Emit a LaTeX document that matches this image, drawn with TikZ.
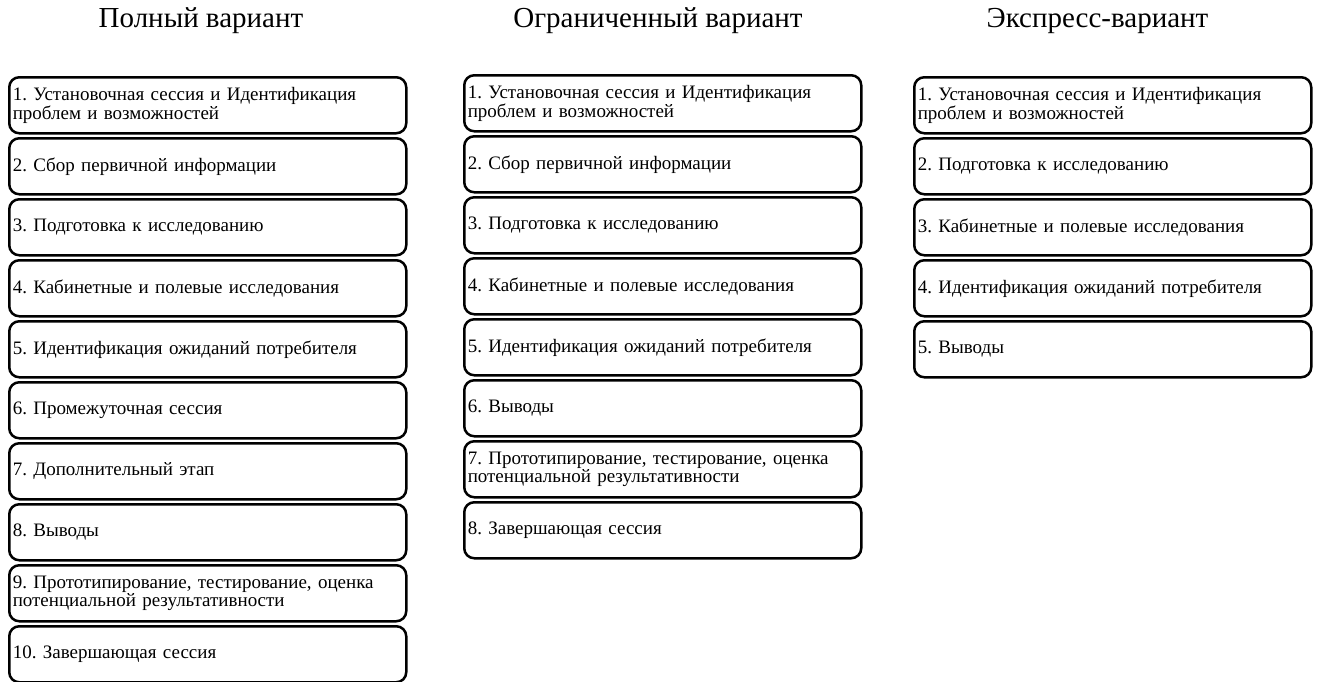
\documentclass[tikz,border=0pt]{standalone}
\usepackage{fontspec}
\setmainfont{Liberation Serif}
\frenchspacing
\begin{document}
\begin{tikzpicture}[x=1pt,y=-1pt,
  stagebox/.style={draw=black, line width=2.5pt, rounded corners=10pt,
    minimum width=397pt, minimum height=56pt, text width=390pt,
    inner xsep=3.5pt, inner ysep=0pt, align=left, anchor=north west,
    font=\fontsize{19}{16.5}\selectfont\frenchspacing},
  coltitle/.style={anchor=base, inner sep=0pt, font=\fontsize{29}{32}\selectfont}]
\useasboundingbox (0,0) rectangle (1317,681);
% titles
\node[coltitle] (t1) at (201,27.3) {Полный вариант};
\node[coltitle] (t2) at (658,27.3) {Ограниченный вариант};
\node[coltitle] (t3) at (1097.5,27.3) {Экспресс-вариант};
% column 1
\node[stagebox] (a1) at (8,76) {1. Установочная сессия и Идентификация\\проблем и возможностей};
\node[stagebox] (a2) at (8,137) {2. Сбор первичной информации};
\node[stagebox] (a3) at (8,198) {3. Подготовка к исследованию};
\node[stagebox] (a4) at (8,259) {4. Кабинетные и полевые исследования};
\node[stagebox] (a5) at (8,320) {5. Идентификация ожиданий потребителя};
\node[stagebox] (a6) at (8,381) {6. Промежуточная сессия};
\node[stagebox] (a7) at (8,442) {7. Дополнительный этап};
\node[stagebox] (a8) at (8,503) {8. Выводы};
\node[stagebox] (a9) at (8,564) {9. Прототипирование, тестирование, оценка\\потенциальной результативности};
\node[stagebox] (a10) at (8,625) {10. Завершающая сессия};
% column 2
\node[stagebox] (b1) at (463,74) {1. Установочная сессия и Идентификация\\проблем и возможностей};
\node[stagebox] (b2) at (463,135) {2. Сбор первичной информации};
\node[stagebox] (b3) at (463,196) {3. Подготовка к исследованию};
\node[stagebox] (b4) at (463,257) {4. Кабинетные и полевые исследования};
\node[stagebox] (b5) at (463,318) {5. Идентификация ожиданий потребителя};
\node[stagebox] (b6) at (463,379) {6. Выводы};
\node[stagebox] (b7) at (463,440) {7. Прототипирование, тестирование, оценка\\потенциальной результативности};
\node[stagebox] (b8) at (463,501) {8. Завершающая сессия};
% column 3
\node[stagebox] (c1) at (913,76) {1. Установочная сессия и Идентификация\\проблем и возможностей};
\node[stagebox] (c2) at (913,137) {2. Подготовка к исследованию};
\node[stagebox] (c3) at (913,198) {3. Кабинетные и полевые исследования};
\node[stagebox] (c4) at (913,259) {4. Идентификация ожиданий потребителя};
\node[stagebox] (c5) at (913,320) {5. Выводы};
\end{tikzpicture}
\end{document}
